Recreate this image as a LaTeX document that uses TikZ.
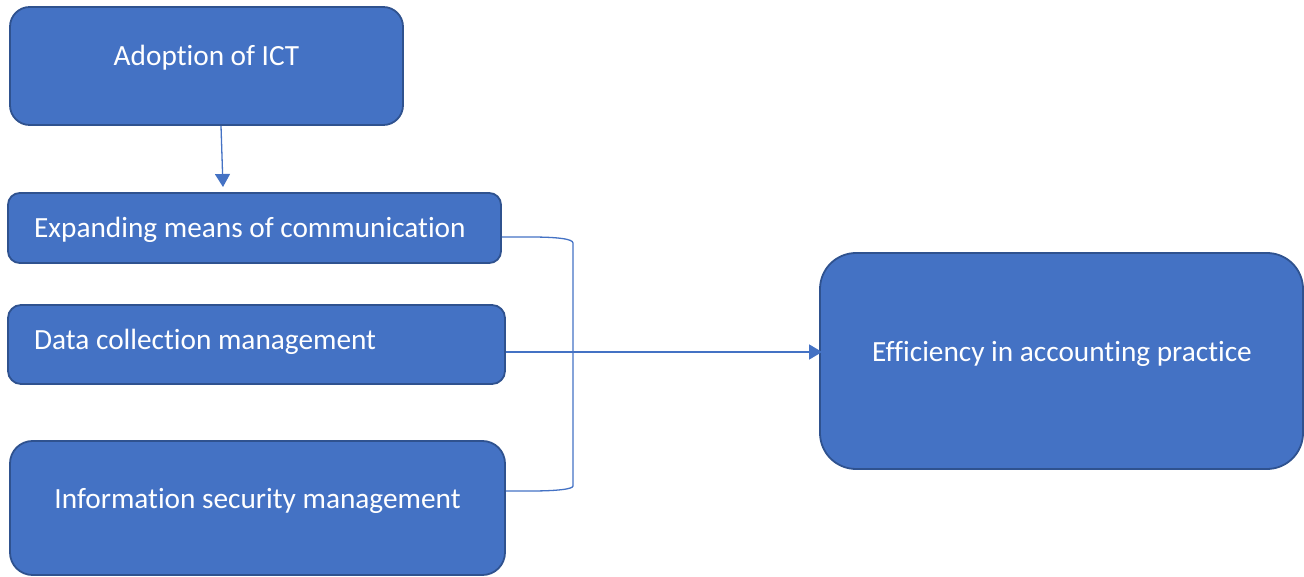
\documentclass[tikz,border=0pt]{standalone}
\usepackage{fontspec}
\setmainfont[RawFeature={-liga;-clig;-calt;-dlig;-rlig}]{Carlito}
\usetikzlibrary{arrows.meta,calc}
\definecolor{boxfill}{HTML}{4472C4}
\definecolor{boxline}{HTML}{2F528F}
\tikzset{
  box/.style={draw=boxline, line width=1.8pt, fill=boxfill, inner sep=0pt, rectangle},
  lbl/.style={text=white, font=\fontsize{29.3}{33}\selectfont, inner sep=0pt},
  conn/.style={draw=boxfill, line width=1.3pt},
  tip/.style={-{Triangle[width=15pt,length=13pt]}}
}
\begin{document}
\begin{tikzpicture}[x=1pt,y=-1pt]
\useasboundingbox (0,0) rectangle (1304,577);
% boxes
\node[box, rounded corners=19.7pt, minimum width=393pt, minimum height=118pt] (A) at (206.5,66) {};
\node[box, rounded corners=11.7pt, minimum width=493pt, minimum height=70pt] (B) at (254.5,228) {};
\node[box, rounded corners=13pt, minimum width=497pt, minimum height=79pt] (C) at (256.5,344.5) {};
\node[box, rounded corners=22.5pt, minimum width=495pt, minimum height=134pt] (D) at (257.5,508) {};
\node[box, rounded corners=36pt, minimum width=483pt, minimum height=216pt] (E) at (1061.5,361) {};
% labels
\node[lbl] (tA) at (206.5,58) {Adoption of ICT};
\node[lbl, anchor=west] (tB) at (34,230) {Expanding means of communication};
\node[lbl, anchor=west] (tC) at (34,342) {Data collection management};
\node[lbl] (tD) at (257.5,501) {Information security management};
\node[lbl] (tE) at (1062,354) {Efficiency in accounting practice};
% connector coordinates
\coordinate (a1) at ($(A.south)+(14.5,0)$);
\coordinate (a2) at (223,187);
\coordinate (b1) at (B.east |- 0,237);
\coordinate (d1) at (D.east |- 0,491);
\coordinate (c1) at (C.east |- 0,352);
\coordinate (e1) at ($(E.west |- 0,352)+(3,0)$);
% connectors
\draw[conn, tip] (a1) -- (a2);
\draw[conn] (b1) -- (530,237) .. controls (558,237) and (573,239) .. (573,243)
  -- (573,486) .. controls (573,489) and (558,491) .. (530,491) -- (d1);
\draw[conn, tip] (c1) -- (e1);
\end{tikzpicture}
\end{document}
